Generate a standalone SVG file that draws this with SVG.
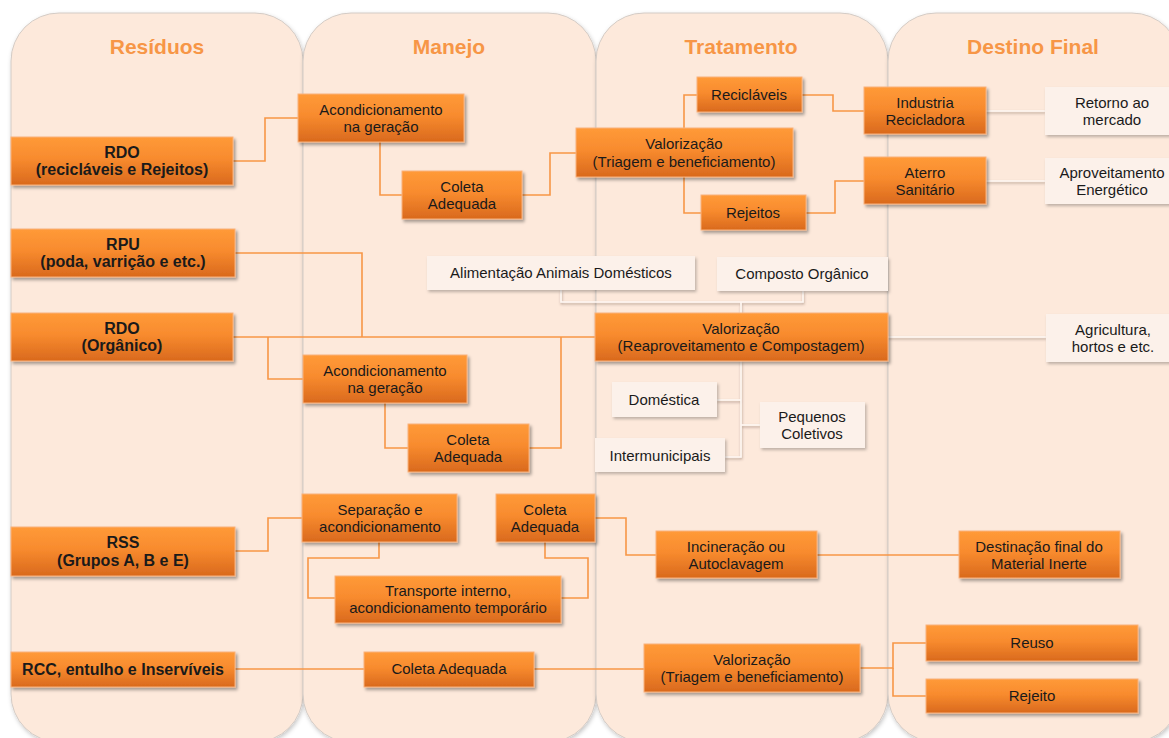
<svg xmlns="http://www.w3.org/2000/svg" width="1169" height="738" viewBox="0 0 1169 738">
<defs>
<linearGradient id="og" x1="0" y1="0" x2="0" y2="1">
<stop offset="0" stop-color="#FF9A38"/>
<stop offset="0.45" stop-color="#F88B2E"/>
<stop offset="1" stop-color="#D9691D"/>
</linearGradient>
<filter id="sh" x="-10%" y="-20%" width="130%" height="160%">
<feDropShadow dx="2" dy="2.5" stdDeviation="1.5" flood-color="#000" flood-opacity="0.35"/>
</filter>
<filter id="shw" x="-10%" y="-20%" width="130%" height="160%">
<feDropShadow dx="1.5" dy="2" stdDeviation="1.5" flood-color="#000" flood-opacity="0.25"/>
</filter>
<filter id="shc" x="-10%" y="-10%" width="120%" height="120%">
<feDropShadow dx="1" dy="2" stdDeviation="2" flood-color="#000" flood-opacity="0.22"/>
</filter>
<filter id="shl" filterUnits="userSpaceOnUse" x="0" y="0" width="1169" height="738">
<feDropShadow dx="0.5" dy="1.6" stdDeviation="1" flood-color="#5A4030" flood-opacity="0.45"/>
</filter>
<style>
.col{fill:#FDE9DB;stroke:#D3CBC5;stroke-width:1;filter:url(#shc)}
.title{font-family:"Liberation Sans",Arial,sans-serif;font-weight:bold;font-size:21px;fill:#F79646;text-anchor:middle}
.ob rect{fill:url(#og);stroke:#F9B27C;stroke-width:1;filter:url(#sh)}
.wb rect{fill:#FCF1EA;filter:url(#shw)}
text.t{font-family:"Liberation Sans",Arial,sans-serif;font-size:15px;fill:#1A1A1A;text-anchor:middle}
text.b{font-weight:bold;font-size:16px}
.oc{fill:none;stroke:#F79646;stroke-width:1.6}
.lc{fill:none;stroke:#FFF8F3;stroke-width:1.6}
</style>
</defs>

<g id="columns">
<rect class="col" x="11" y="13" width="292" height="729" rx="48"/>
<rect class="col" x="303" y="13" width="293" height="729" rx="48"/>
<rect class="col" x="596" y="13" width="292" height="729" rx="48"/>
<rect class="col" x="888" y="13" width="292" height="729" rx="48"/>
<text class="title" x="157" y="54">Resíduos</text>
<text class="title" x="449" y="54">Manejo</text>
<text class="title" x="741" y="54">Tratamento</text>
<text class="title" x="1033" y="54">Destino Final</text>
</g>

<g id="connectors">
<path class="oc" d="M233,161 H265 V118 H298"/>
<path class="oc" d="M380,142 V195 H402"/>
<path class="oc" d="M522,195 H550 V153 H576"/>
<path class="oc" d="M684,128 V95 H697"/>
<path class="oc" d="M684,177 V213 H701"/>
<path class="oc" d="M802,95 H833 V111 H864"/>
<path class="oc" d="M806,213 H835 V181 H864"/>
<path class="oc" d="M235,253 H362 V337"/>
<path class="oc" d="M233,337 H595"/>
<path class="oc" d="M268,337 V379 H303"/>
<path class="oc" d="M385,403 V448 H408"/>
<path class="oc" d="M529,448 H561 V337"/>
<path class="oc" d="M235,551 H268 V518 H302"/>
<path class="oc" d="M379,542 V558 H308 V598 H335"/>
<path class="oc" d="M545,542 V558 H588 V598 H561"/>
<path class="oc" d="M595,518 H626 V555 H656"/>
<path class="oc" d="M817,555 H959"/>
<path class="oc" d="M235,669 H364"/>
<path class="oc" d="M534,669 H644"/>
<path class="oc" d="M860,668 H893 V643 H926"/>
<path class="oc" d="M893,668 V696 H926"/>
<g filter="url(#shl)">
<path class="lc" d="M986,111 H1045"/>
<path class="lc" d="M986,181 H1045"/>
<path class="lc" d="M561,290 V302 H803 V291"/>
<path class="lc" d="M741,302 V313"/>
<path class="lc" d="M888,337 H1046"/>
<path class="lc" d="M741,361 V457 H725"/>
<path class="lc" d="M717,400 H741"/>
<path class="lc" d="M741,425 H760"/>
</g>
</g>

<g id="n-rdo1" class="ob"><rect x="11" y="137" width="222" height="48"/><text class="t b" x="122" y="158">RDO</text><text class="t b" x="122" y="175">(recicláveis e Rejeitos)</text></g>
<g id="n-rpu" class="ob"><rect x="11" y="229" width="224" height="48"/><text class="t b" x="123" y="250">RPU</text><text class="t b" x="123" y="267">(poda, varrição e etc.)</text></g>
<g id="n-rdo2" class="ob"><rect x="11" y="313" width="222" height="48"/><text class="t b" x="122" y="334">RDO</text><text class="t b" x="122" y="351">(Orgânico)</text></g>
<g id="n-rss" class="ob"><rect x="11" y="527" width="224" height="49"/><text class="t b" x="123" y="548">RSS</text><text class="t b" x="123" y="566">(Grupos A, B e E)</text></g>
<g id="n-rcc" class="ob"><rect x="11" y="652" width="224" height="35"/><text class="t b" x="123" y="675">RCC, entulho e Inservíveis</text></g>

<g id="n-acond1" class="ob"><rect x="298" y="94" width="166" height="48"/><text class="t" x="381" y="115">Acondicionamento</text><text class="t" x="381" y="132">na geração</text></g>
<g id="n-coleta1" class="ob"><rect x="402" y="171" width="120" height="48"/><text class="t" x="462" y="192">Coleta</text><text class="t" x="462" y="209">Adequada</text></g>
<g id="n-acond2" class="ob"><rect x="303" y="355" width="164" height="48"/><text class="t" x="385" y="376">Acondicionamento</text><text class="t" x="385" y="393">na geração</text></g>
<g id="n-coleta2" class="ob"><rect x="408" y="424" width="121" height="48"/><text class="t" x="468" y="445">Coleta</text><text class="t" x="468" y="462">Adequada</text></g>
<g id="n-separacao" class="ob"><rect x="302" y="494" width="155" height="48"/><text class="t" x="380" y="515">Separação e</text><text class="t" x="380" y="532">acondicionamento</text></g>
<g id="n-coleta-rss" class="ob"><rect x="496" y="494" width="99" height="48"/><text class="t" x="545" y="515">Coleta</text><text class="t" x="545" y="532">Adequada</text></g>
<g id="n-transporte" class="ob"><rect x="335" y="576" width="226" height="47"/><text class="t" x="448" y="596">Transporte interno,</text><text class="t" x="448" y="613">acondicionamento temporário</text></g>
<g id="n-coleta3" class="ob"><rect x="364" y="652" width="170" height="35"/><text class="t" x="449" y="674">Coleta Adequada</text></g>

<g id="n-valor1" class="ob"><rect x="576" y="128" width="217" height="49"/><text class="t" x="684" y="149">Valorização</text><text class="t" x="684" y="167">(Triagem e beneficiamento)</text></g>
<g id="n-reciclaveis" class="ob"><rect x="697" y="77" width="105" height="35"/><text class="t" x="749" y="100">Recicláveis</text></g>
<g id="n-rejeitos" class="ob"><rect x="701" y="195" width="105" height="35"/><text class="t" x="753" y="218">Rejeitos</text></g>
<g id="n-alimentacao" class="wb"><rect x="427" y="256" width="268" height="34"/><text class="t" x="561" y="278">Alimentação Animais Domésticos</text></g>
<g id="n-composto" class="wb"><rect x="717" y="257" width="171" height="34"/><text class="t" x="802" y="279">Composto Orgânico</text></g>
<g id="n-valor2" class="ob"><rect x="595" y="313" width="293" height="48"/><text class="t" x="741" y="334">Valorização</text><text class="t" x="741" y="351">(Reaproveitamento e Compostagem)</text></g>
<g id="n-domestica" class="wb"><rect x="612" y="382" width="105" height="35"/><text class="t" x="664" y="405">Doméstica</text></g>
<g id="n-pequenos" class="wb"><rect x="760" y="402" width="105" height="46"/><text class="t" x="812" y="422">Pequenos</text><text class="t" x="812" y="439">Coletivos</text></g>
<g id="n-intermunicipais" class="wb"><rect x="595" y="438" width="130" height="34"/><text class="t" x="660" y="461">Intermunicipais</text></g>
<g id="n-incineracao" class="ob"><rect x="656" y="531" width="161" height="47"/><text class="t" x="736" y="552">Incineração ou</text><text class="t" x="736" y="569">Autoclavagem</text></g>
<g id="n-valor3" class="ob"><rect x="644" y="644" width="216" height="48"/><text class="t" x="752" y="665">Valorização</text><text class="t" x="752" y="682">(Triagem e beneficiamento)</text></g>

<g id="n-industria" class="ob"><rect x="864" y="87" width="122" height="47"/><text class="t" x="925" y="108">Industria</text><text class="t" x="925" y="125">Recicladora</text></g>
<g id="n-aterro" class="ob"><rect x="864" y="157" width="122" height="47"/><text class="t" x="925" y="178">Aterro</text><text class="t" x="925" y="195">Sanitário</text></g>
<g id="n-retorno" class="wb"><rect x="1045" y="87" width="135" height="48"/><text class="t" x="1112" y="108">Retorno ao</text><text class="t" x="1112" y="125">mercado</text></g>
<g id="n-aproveitamento" class="wb"><rect x="1045" y="158" width="135" height="46"/><text class="t" x="1112" y="178">Aproveitamento</text><text class="t" x="1112" y="195">Energético</text></g>
<g id="n-agricultura" class="wb"><rect x="1046" y="314" width="134" height="48"/><text class="t" x="1113" y="335">Agricultura,</text><text class="t" x="1113" y="352">hortos e etc.</text></g>
<g id="n-destinacao" class="ob"><rect x="959" y="531" width="161" height="47"/><text class="t" x="1039" y="552">Destinação final do</text><text class="t" x="1039" y="569">Material Inerte</text></g>
<g id="n-reuso" class="ob"><rect x="926" y="625" width="212" height="36"/><text class="t" x="1032" y="648">Reuso</text></g>
<g id="n-rejeito" class="ob"><rect x="926" y="679" width="212" height="34"/><text class="t" x="1032" y="701">Rejeito</text></g>
</svg>
